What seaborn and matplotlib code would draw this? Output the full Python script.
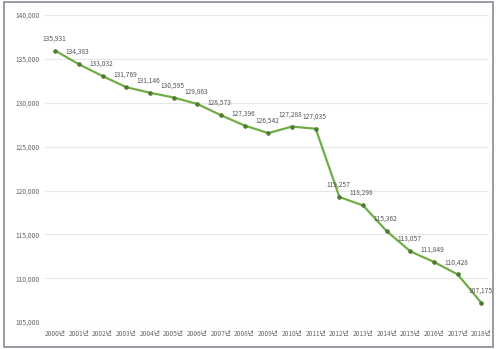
import matplotlib
matplotlib.use("Agg")
import matplotlib.pyplot as plt
import seaborn as sns
import pandas as pd
from matplotlib.patches import Rectangle

# data
years = [f"{y}년" for y in range(2000, 2019)]
values = [135931, 134383, 133032, 131769, 131146, 130595, 129863, 128573,
          127396, 126542, 127288, 127035, 119257, 118298, 115362, 113057,
          111849, 110428, 107175]
y_ticks = [105000, 110000, 115000, 120000, 125000, 130000, 135000, 140000]

df = pd.DataFrame({"year": years, "value": values})

sns.set_style("white")
plt.rcParams['font.family'] = ['Noto Sans CJK KR', 'DejaVu Sans']

fig = plt.figure(figsize=(4.96, 3.49), dpi=100)
ax = fig.add_axes([0.09, 0.077, 0.895, 0.88])

sns.lineplot(data=df, x="year", y="value", ax=ax, color="#70ad47", linewidth=1.6,
             marker="o", markersize=2.5, markerfacecolor="#4e7a32",
             markeredgecolor="#4e7a32", sort=False)

for i, v in enumerate(values):
    ax.annotate(f"{v:,}", (i, v), textcoords="offset points", xytext=(-1, 6),
                ha="center", va="bottom", fontsize=4.8, color="#555555")

ax.set_ylim(105000, 140000)
ax.set_xlim(-0.45, 18.3)
ax.set_yticks(y_ticks)
ax.set_yticklabels([f"{t:,}" for t in y_ticks])
ax.grid(axis="y", color="#e6e6e6", linewidth=0.8)
ax.grid(axis="x", visible=False)
for s in ax.spines.values():
    s.set_visible(False)
ax.tick_params(axis="both", length=0, labelsize=4.8, labelcolor="#666666")
ax.tick_params(axis="x", pad=6)
ax.set_xlabel("")
ax.set_ylabel("")

# outer frame like the source image
fig.patches.append(Rectangle((0.008, 0.005), 0.985, 0.99, transform=fig.transFigure,
                             fill=False, edgecolor="#8a8a9a", linewidth=1.2))

fig.savefig("out.png", dpi=100)
